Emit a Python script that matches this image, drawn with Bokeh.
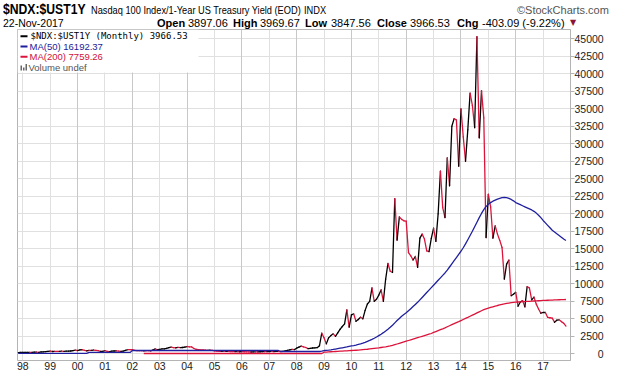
import numpy as np
import pandas as pd
from bokeh.plotting import figure
from bokeh.layouts import column
from bokeh.models import Range1d, FixedTicker, Label, BoxAnnotation, ColumnDataSource, Grid, Div
from bokeh.embed import file_html
from bokeh.resources import INLINE

# ---------------- data (monthly, Nov-1997 .. Nov-2017) ----------------
first_month = "1997-11-01"

price = [
    180, 185,
    190, 205, 210, 215, 205, 230, 235, 205, 260, 280, 300, 340,
    380, 330, 360, 355, 335, 370, 360, 370, 370, 400, 460, 510,
    470, 560, 580, 490, 430, 500, 480, 540, 490, 450, 350, 360,
    440, 340, 310, 390, 400, 420, 395, 355, 385, 500, 600, 590,
    580, 485, 460, 455, 450, 430, 465, 455, 430, 540, 700, 580,
    620, 690, 700, 760, 880, 950, 880, 850, 910, 890, 900, 950,
    1040, 1000, 980, 760, 620, 600, 560, 540, 520, 500, 520, 480,
    420, 380, 350, 340, 370, 340, 350, 330, 320, 300, 310, 290,
    300, 290, 280, 270, 260, 270, 280, 270, 290, 300, 310, 300,
    330, 340, 330, 340, 350, 330, 340, 420, 480, 560, 620, 600,
    800, 950, 1100, 1000, 900, 740, 780, 830, 850, 880, 1150, 2940,
    2300, 1420, 2280, 2600, 2850, 2500, 3000, 3500, 3900, 4270, 6270, 3800,
    5550, 5700, 4650, 4900, 5220, 5000, 6200, 7120, 7500, 9400, 7500, 7800,
    8390, 9120, 7500, 10680, 12900, 11800, 11620, 22170, 16240, 19560, 19200, 19000,
    18950, 14470, 14000, 13400, 13900, 12340, 16520, 17100, 16400, 14710, 14600, 16500,
    17950, 16060, 20000, 26110, 20890, 19460, 28000, 24000, 32500, 33600, 33400, 26800,
    35000, 31000, 27500, 32000, 37250, 35500, 32300, 45300, 30850, 37600, 33700, 16600,
    22790, 21000, 16520, 18270, 17100, 16200, 15190, 10680, 12820, 13390, 8300, 8500,
    8780, 6800, 7400, 7600, 6700, 9600, 9400, 7700, 8100, 7100, 6400, 5800,
    5900, 5900, 5200, 5150, 5100, 4500, 4800, 4850, 4600, 4369.62, 3966.53,
]

ma50 = [
    60, 60,
    60, 60, 60, 60, 60, 60, 60, 60, 60, 60, 60, 60,
    60, 60, 60, 60, 60, 60, 60, 60, 60, 60, 60, 60,
    60, 60, 60, 60, 60, 200, 200, 200, 200, 200, 200, 200,
    200, 200, 200, 200, 200, 200, 200, 200, 200, 200, 200, 200,
    470, 470, 470, 470, 470, 470, 470, 470, 470, 470, 470, 470,
    470, 470, 470, 470, 470, 470, 470, 470, 470, 470, 470, 470,
    470, 470, 470, 470, 470, 470, 470, 470, 470, 470, 470, 470,
    470, 470, 470, 470, 470, 470, 470, 470, 470, 470, 470, 470,
    470, 470, 470, 470, 470, 470, 470, 470, 470, 470, 470, 470,
    470, 470, 470, 470, 470, 330, 330, 330, 330, 330, 330, 330,
    330, 330, 330, 330, 330, 330, 330, 330, 330, 330, 330, 380,
    470, 500, 530, 570, 620, 680, 740, 800, 860, 920, 980, 1050,
    1120, 1180, 1250, 1330, 1420, 1520, 1640, 1770, 1910, 2060, 2220, 2400,
    2600, 2800, 3020, 3250, 3500, 3780, 4080, 4420, 4750, 5050, 5350, 5600,
    5850, 6150, 6450, 6750, 7050, 7350, 7700, 8050, 8400, 8750, 9100, 9450,
    9800, 10150, 10500, 10850, 11200, 11550, 11950, 12400, 12850, 13300, 13750, 14200,
    14650, 15150, 15700, 16300, 16900, 17500, 18150, 18800, 19450, 20050, 20600, 21050,
    21350, 21600, 21800, 21950, 22100, 22200, 22300, 22330, 22300, 22200, 22050, 21850,
    21600, 21450, 21300, 21150, 21000, 20850, 20700, 20550, 20350, 20100, 19800, 19450,
    19050, 18700, 18350, 18000, 17650, 17400, 17150, 16900, 16650, 16400, 16192.37,
]

ma200 = [
    None, None,
    None, None, None, None, None, None, None, None, None, None, None, None,
    None, None, None, None, None, None, None, None, None, None, None, None,
    None, None, None, None, None, None, None, None, None, None, None, None,
    None, None, None, None, None, None, None, None, None, None, None, None,
    None, None, None, None, None, 40, 40, 40, 40, 40, 40, 40,
    40, 40, 40, 40, 40, 40, 40, 40, 40, 40, 40, 40,
    40, 40, 40, 40, 40, 40, 40, 40, 40, 40, 40, 40,
    40, 40, 40, 40, 40, 40, 40, 40, 40, 40, 40, 40,
    40, 40, 40, 40, 40, 40, 40, 40, 40, 40, 40, 40,
    40, 40, 40, 40, 40, 40, 40, 40, 40, 40, 40, 40,
    40, 40, 40, 40, 40, 40, 40, 40, 40, 40, 40, 40,
    230, 250, 270, 290, 310, 330, 350, 370, 390, 410, 430, 450,
    470, 490, 510, 530, 560, 590, 620, 650, 690, 730, 770, 810,
    850, 900, 950, 1000, 1060, 1120, 1200, 1300, 1400, 1500, 1600, 1700,
    1800, 1900, 2000, 2100, 2200, 2300, 2400, 2500, 2600, 2700, 2800, 2900,
    3050, 3180, 3310, 3440, 3570, 3710, 3860, 4010, 4160, 4310, 4460, 4600,
    4750, 4900, 5050, 5200, 5360, 5520, 5680, 5840, 6000, 6150, 6300, 6420,
    6520, 6620, 6720, 6810, 6900, 6980, 7060, 7130, 7190, 7250, 7300, 7340,
    7370, 7400, 7420, 7440, 7460, 7480, 7500, 7520, 7540, 7560, 7580, 7600,
    7620, 7635, 7650, 7665, 7680, 7695, 7710, 7725, 7740, 7750, 7759.26,
]

quote = {"date": "22-Nov-2017", "Open": "3897.06", "High": "3969.67", "Low": "3847.56",
         "Close": "3966.53", "Chg": "-403.09 (-9.22%)"}

y_ticks = [0, 2500, 5000, 7500, 10000, 12500, 15000, 17500, 20000, 22500,
           25000, 27500, 30000, 32500, 35000, 37500, 40000, 42500, 45000]
y_tick_labels = ["0", "2500", "5000", "7500", "10000", "12500", "15000", "17500", "20000", "22500",
                 "25000", "27500", "30000", "32500", "35000", "37500", "40000", "42500", "45000"]
x_ticks = list(range(1998, 2018))
x_tick_labels = ["98", "99", "00", "01", "02", "03", "04", "05", "06", "07",
                 "08", "09", "10", "11", "12", "13", "14", "15", "16", "17"]

# ---------------- layout (page pixels) ----------------
W, H = 620, 376
HEAD = 29                      # header strip height
FL, FR, FT, FB = 17, 570, 29, 360

dates = pd.date_range(first_month, periods=len(price), freq="MS")
t = np.asarray(dates.year + (dates.month - 1) / 12.0, dtype=float)
pr = np.asarray(price, dtype=float)
m50 = np.array(ma50, dtype=float)
m200 = np.array(ma200, dtype=float)

UP, DOWN = "#000000", "#dc143c"
BLUE, RED = "#1f1f9f", "#dc143c"
seg = ColumnDataSource(dict(
    x0=t[:-1], y0=pr[:-1], x1=t[1:], y1=pr[1:],
    color=[UP if b >= a else DOWN for a, b in zip(pr[:-1], pr[1:])],
))

# ---------------- header strip (HTML text) ----------------
def span(x, cy, text, size=11, bold=False, color="#000000", sx=1.0,
         font="'Liberation Sans', Arial, sans-serif"):
    lh = round(size * 1.05)
    top = cy - lh / 2.0
    tr = f"transform:scaleX({sx});transform-origin:0 50%;" if sx != 1.0 else ""
    return (f'<span style="position:absolute;left:{x}px;top:{top:.1f}px;font-family:{font};'
            f'font-size:{size}px;line-height:{lh}px;font-weight:{"bold" if bold else "normal"};'
            f'color:{color};white-space:nowrap;{tr}">{text}</span>')


R1, R2 = 9, 23.3
parts = [
    span(3, R1, "&#36;NDX:&#36;UST1Y", size=14, bold=True, sx=0.87),
    span(91, R1 + 0.5, "Nasdaq 100 Index/1-Year US Treasury Yield (EOD)", size=11, sx=0.84),
    span(304, R1 + 0.5, "INDX", size=11, sx=0.84),
    span(517, R1 + 0.5, "&copy;StockCharts.com", size=11, color="#555555"),
    span(3, R2, quote["date"], size=10.5),
    span(157, R2, "Open", bold=True), span(188, R2, quote["Open"]),
    span(233, R2, "High", bold=True), span(260, R2, quote["High"]),
    span(305, R2, "Low", bold=True), span(331, R2, quote["Low"]),
    span(377, R2, "Close", bold=True), span(410, R2, quote["Close"]),
    span(457, R2, "Chg", bold=True), span(482, R2, quote["Chg"]),
    span(570, R2, "&#9660;", size=8, color="#8b1538", font="'DejaVu Sans', sans-serif"),
]
head = Div(text=f'<div style="position:relative;width:{W}px;height:{HEAD}px;overflow:hidden;background:#ffffff">'
           + "".join(parts) + "</div>",
           width=W, height=HEAD, margin=0, disable_math=True)

# ---------------- chart ----------------
p = figure(width=W, height=H - HEAD, output_backend="svg", toolbar_location=None,
           x_range=Range1d(1997.806, 2018.0), y_range=Range1d(-957, 46330),
           y_axis_location="right",
           min_border_left=FL, min_border_right=W - FR,
           min_border_top=FT - HEAD, min_border_bottom=H - FB)
p.background_fill_color = "white"
p.border_fill_color = "white"
p.outline_line_color = "#b4b4b4"

p.ygrid.ticker = FixedTicker(ticks=y_ticks)
p.ygrid.grid_line_color = "#e0e0e0"
dark_years = [y for y in x_ticks if y % 2 == 0 and y >= 2000]
light_years = [y for y in x_ticks if y not in dark_years]
p.xgrid.ticker = FixedTicker(ticks=light_years)
p.xgrid.grid_line_color = "#e0e0e0"
p.add_layout(Grid(dimension=0, ticker=FixedTicker(ticks=dark_years), grid_line_color="#c8c8c8"))

FIG = "\u2007"
ya = p.yaxis[0]
ya.ticker = FixedTicker(ticks=y_ticks)
ya.major_label_overrides = {v: FIG * (5 - len(s)) + s for v, s in zip(y_ticks, y_tick_labels)}
ya.axis_line_color = "#b4b4b4"
ya.major_tick_line_color = "#b4b4b4"
ya.major_tick_out = 4
ya.major_tick_in = 0
ya.minor_tick_line_color = None
ya.major_label_standoff = 0
ya.major_label_text_font = "Liberation Sans"
ya.major_label_text_font_size = "10.5px"
ya.major_label_text_color = "#222222"

xa = p.xaxis[0]
xa.ticker = FixedTicker(ticks=x_ticks)
xa.major_label_overrides = {v: s for v, s in zip(x_ticks, x_tick_labels)}
xa.axis_line_color = None
xa.major_tick_line_color = None
xa.minor_tick_line_color = None
xa.major_tick_out = 0
xa.major_label_standoff = 1
xa.major_label_text_font = "Liberation Sans"
xa.major_label_text_font_size = "10.5px"
xa.major_label_text_color = "#222222"

p.segment("x0", "y0", "x1", "y1", source=seg, line_color="color", line_width=1.3, line_cap="round")
p.line(t, m200, line_color=RED, line_width=1.3)
p.line(t, m50, line_color=BLUE, line_width=1.3)


def sx(cx):
    return cx - FL


def sy(cy):
    return FB - cy


def txt(cx, cy, text, size="9.5px", color="#000000", font="Liberation Sans"):
    p.add_layout(Label(x=sx(cx), y=sy(cy), x_units="screen", y_units="screen", text=text,
                       text_font=font, text_font_size=size,
                       text_color=color, text_align="left", text_baseline="middle"))


def box(l, r, top, bot, color):
    p.add_layout(BoxAnnotation(left=sx(l), right=sx(r), top=sy(top), bottom=sy(bot),
                               left_units="screen", right_units="screen",
                               top_units="screen", bottom_units="screen",
                               fill_color=color, fill_alpha=1.0, line_color=None))


# legend
box(FL, 198, FT, 72, "white")
box(20, 27, 34.7, 36.7, "#000000")
box(20, 27, 45, 47, BLUE)
box(20, 27, 55.3, 57.3, RED)
box(20, 21.5, 65, 70, "#666666")
box(22.5, 24, 67, 70, "#666666")
box(25, 26.5, 63.5, 70, "#666666")
txt(30, 35.7, "$NDX:$UST1Y (Monthly) 3966.53", size="9px", font="DejaVu Sans Mono")
txt(29, 46, "MA(50) 16192.37", color="#1a1a9a")
txt(29, 56.3, "MA(200) 7759.26", color="#d0103a")
txt(28, 66.7, "Volume undef", color="#555555")

layout = column(head, p, spacing=0)
open("out.html", "w").write(file_html(layout, INLINE))
